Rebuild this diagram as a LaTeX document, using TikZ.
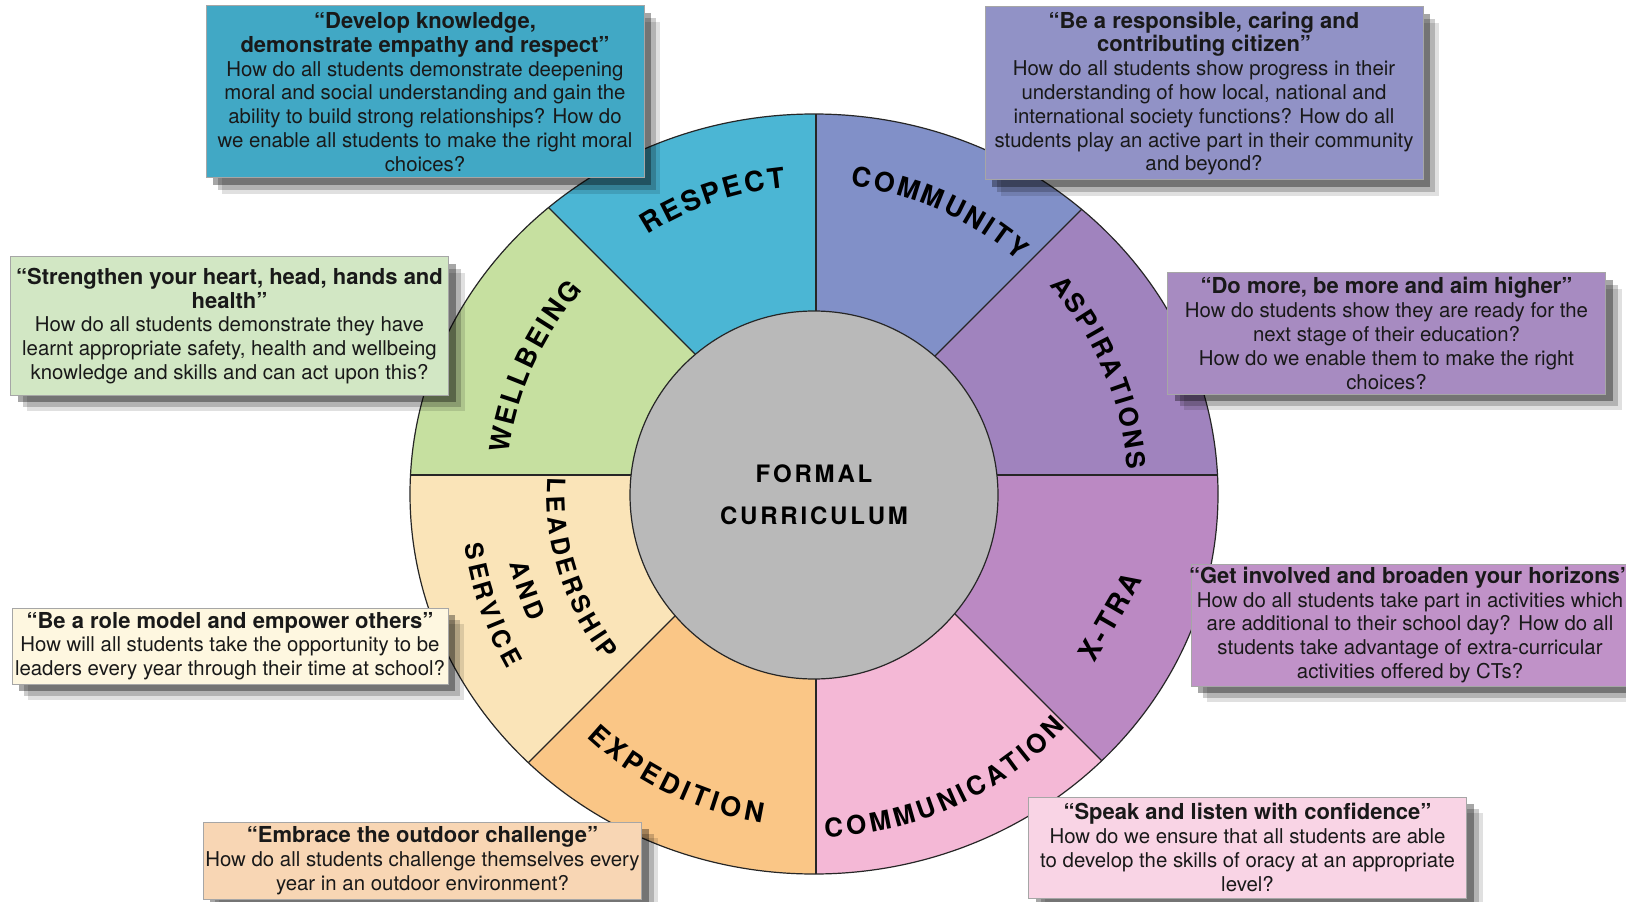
\documentclass[tikz,border=0pt]{standalone}
\usepackage{fontspec}
\setmainfont{TeX Gyre Heros}
\usetikzlibrary{calc,shadows}

\definecolor{resC}{HTML}{4BB6D4}
\definecolor{comC}{HTML}{8190C8}
\definecolor{aspC}{HTML}{A083BE}
\definecolor{xtrC}{HTML}{BB89C3}
\definecolor{cmnC}{HTML}{F4B8D6}
\definecolor{expC}{HTML}{FAC686}
\definecolor{leaC}{HTML}{FAE4B8}
\definecolor{welC}{HTML}{C6E0A0}
\definecolor{coreC}{HTML}{B9B9B9}
\definecolor{resB}{HTML}{41A8C5}
\definecolor{comB}{HTML}{9192C6}
\definecolor{aspB}{HTML}{A78BC1}
\definecolor{xtrB}{HTML}{C092C8}
\definecolor{cmnB}{HTML}{F9D4E5}
\definecolor{expB}{HTML}{F8D6B4}
\definecolor{leaB}{HTML}{FEF7E0}
\definecolor{welB}{HTML}{D2E7C4}

\newcommand\lsp{\kern1.4pt}
\newcommand\ttl[1]{{\fontsize{11}{11.9}\selectfont\bfseries #1}}
\newcommand\labfont{\fontsize{14}{14}\selectfont\bfseries}

% letters (letter/width in 1/1000 em) round (#1), radius #2, centred on angle #3,
% #4 = 1 ccw / -1 cw, #5 = size in pt
\newcommand\arcword[6]{%
  \gdef\awid{0}%
  \foreach \ch/\w in {#6}{\pgfmathsetmacro\tmpw{\awid+\w*#5/1000+1.6}\xdef\awid{\tmpw}}%
  \gdef\apos{0}%
  \foreach \ch/\w in {#6}{%
    \pgfmathsetmacro\lc{\apos+0.5*\w*#5/1000-0.5*(\awid-1.6)}%
    \pgfmathsetmacro\la{#3+(#4)*\lc/(#2*0.5)*180/pi}%
    \pgfmathsetmacro\tmpw{\apos+\w*#5/1000+1.6}\xdef\apos{\tmpw}%
    \node[inner sep=0pt, rotate=\la+(#4)*90, font=\fontsize{#5}{#5}\selectfont\bfseries]
      at ($(#1)+(\la:#2)$) {\ch};}%
}

\tikzset{
  rim/.style={draw=black!85, line width=.6pt},
  aim/.style={draw=black!35, line width=.5pt, align=center, inner sep=1pt,
    minimum width=219pt, text=black!90, font=\fontsize{10.2}{11.9}\selectfont,
    drop shadow={shadow xshift=8pt, shadow yshift=-8pt, opacity=.12, fill=black},
    drop shadow={shadow xshift=6pt, shadow yshift=-6pt, opacity=.2, fill=black},
    drop shadow={shadow xshift=3.5pt, shadow yshift=-3.5pt, opacity=.35, fill=black}}
}

\begin{document}
\begin{tikzpicture}[x=.5pt, y=.5pt]
  \fill[white] (0,0) rectangle (1626,901);
  \useasboundingbox (0,0) rectangle (1626,901);
  \coordinate (hub) at (816,426);
  \coordinate (mid) at (814,407);
  \foreach \a/\col in {0/aspC,45/comC,90/resC,135/welC,180/leaC,225/expC,270/cmnC,315/xtrC}{
    \begin{scope}
      \clip (hub) -- ($(hub)+(\a:1200)$) -- ($(hub)+(\a+45:1200)$) -- cycle;
      \fill[fill=\col] (mid) ellipse[x radius=404, y radius=380];
    \end{scope}
  }
  \begin{scope}
    \clip (mid) ellipse[x radius=404, y radius=380];
    \foreach \a in {0,45,...,315} \draw[rim] (hub) -- ($(hub)+(\a:450)$);
  \end{scope}
  \draw[rim] (mid) ellipse[x radius=404, y radius=380];
  \node[circle, rim, fill=coreC, minimum size=184pt, inner sep=0pt, align=center,
        font=\bfseries\fontsize{12}{21}\selectfont] (core) at (814,406)
        {F\lsp O\lsp R\lsp M\lsp A\lsp L\\C\lsp U\lsp R\lsp R\lsp I\lsp C\lsp U\lsp L\lsp U\lsp M};

  \arcword{mid}{318}{109}{-1}{14}{R/722,E/667,S/667,P/667,E/667,C/722,T/611}
  \arcword{mid}{320}{66}{-1}{13.5}{C/722,O/778,M/833,M/833,U/722,N/722,I/278,T/611,Y/667}
  \arcword{mid}{324}{23}{-1}{13}{A/722,S/667,P/667,I/278,R/722,A/722,T/611,I/278,O/778,N/722,S/667}
  \arcword{mid}{318}{155.5}{-1}{13.5}{W/944,E/667,L/611,L/611,B/722,E/667,I/278,N/722,G/778}
  \arcword{mid}{323}{244}{1}{13.5}{E/667,X/667,P/667,E/667,D/722,I/278,T/611,I/278,O/778,N/722}
  \arcword{mid}{334}{294.5}{1}{13}{C/722,O/778,M/833,M/833,U/722,N/722,I/278,C/722,A/722,T/611,I/278,O/778,N/722}
  \arcword{mid}{258}{197.5}{1}{12.5}{L/611,E/667,A/722,D/722,E/667,R/722,S/667,H/722,I/278,P/667}
  \arcword{mid}{303}{198.5}{1}{12.5}{A/722,N/722,D/722}
  \arcword{mid}{344}{199}{1}{12.5}{S/667,E/667,R/722,V/667,I/278,C/722,E/667}
  \node[rotate=60, font=\labfont] (xtra) at (1110,284) {X\lsp -\lsp T\lsp R\lsp A};

  \node[aim, fill=resB, minimum height=86pt] (respect) at (425,809)
    {\ttl{“Develop knowledge,}\\\ttl{demonstrate empathy and respect”}\\
     How do all students demonstrate deepening\\moral and social understanding and gain the\\
     ability to build strong relationships?  How do\\we enable all students to make the right moral\\choices?};
  \node[aim, fill=comB, minimum height=86.5pt] (community) at (1204,807.5)
    {\ttl{“Be a responsible, caring and}\\\ttl{contributing citizen”}\\
     How do all students show progress in their\\understanding of how local, national and\\
     international society functions? How do all\\students play an active part in their community\\and beyond?};
  \node[aim, fill=welB, minimum height=69pt] (wellbeing) at (229.5,575)
    {\ttl{“Strengthen your heart, head, hands and}\\\ttl{health”}\\
     How do all students demonstrate they have\\learnt appropriate safety, health and wellbeing\\
     knowledge and skills and can act upon this?};
  \node[aim, fill=aspB, minimum height=60.5pt] (aspirations) at (1386.5,567.5)
    {\ttl{“Do more, be more and aim higher”}\\
     How do students show they are ready for the\\next stage of their education?\\
     How do we enable them to make the right\\choices?};
  \node[aim, fill=xtrB, inner xsep=-4pt, minimum height=61pt] (xtrabox) at (1410,276)
    {\ttl{“Get involved and broaden your horizons”}\\
     How do all students take part in activities which\\are additional to their school day?  How do all\\
     students take advantage of extra-curricular\\activities offered by CTs?};
  \node[aim, fill=leaB, minimum width=218pt, minimum height=38pt] (leadership) at (230,255)
    {\ttl{“Be a role model and empower others”}\\
     How will all students take the opportunity to be\\leaders every year through their time at school?};
  \node[aim, fill=expB, minimum height=38.5pt] (expedition) at (422.5,40.5)
    {\ttl{“Embrace the outdoor challenge”}\\
     How do all students challenge themselves every\\year in an outdoor environment?};
  \node[aim, fill=cmnB, minimum height=50.5pt] (communication) at (1247.5,53.5)
    {\ttl{“Speak and listen with confidence”}\\
     How do we ensure that all students are able\\to develop the skills of oracy at an appropriate\\level?};
\end{tikzpicture}
\end{document}
